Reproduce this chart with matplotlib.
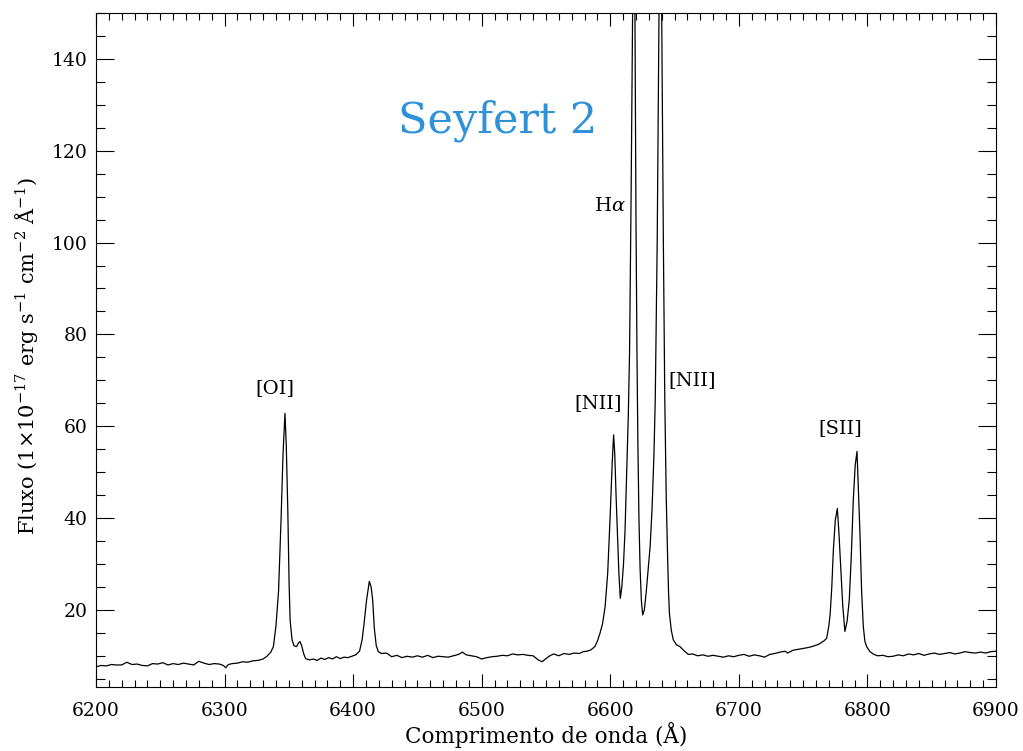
import numpy as np
import matplotlib
matplotlib.use('Agg')
import matplotlib.pyplot as plt
from matplotlib.ticker import MultipleLocator

# espectro lido em trechos (comprimento de onda em Angstrom, fluxo em 1e-17 erg/s/cm2/A)
wave_blue = [6200, 6204, 6208, 6212, 6216, 6220, 6224, 6228, 6232, 6236, 6240, 6244,
             6248, 6252, 6256, 6260, 6264, 6268, 6272, 6276, 6280, 6284, 6288, 6292,
             6296, 6299, 6301, 6303, 6306, 6310, 6314, 6318, 6322, 6326, 6330, 6333, 6336]
flux_blue = [7.6, 7.9, 7.8, 8.1, 8.0, 8.0, 8.6, 8.1, 8.2, 7.9, 7.8, 8.3,
             8.2, 8.5, 8.0, 8.3, 8.1, 8.4, 8.2, 8.0, 8.8, 8.4, 8.1, 8.3,
             8.2, 7.9, 7.4, 8.1, 8.3, 8.4, 8.7, 8.6, 8.9, 9.0, 9.3, 9.9, 10.8]

wave_oi = [6338, 6340, 6342, 6344, 6345.5, 6347, 6348, 6349.2, 6350.2, 6351, 6352.5,
           6354, 6356, 6357.5, 6358.7, 6360, 6361.5, 6363, 6366]
flux_oi = [12.0, 16.5, 24.0, 40.0, 54.0, 62.8, 56.0, 41.8, 26.0, 17.8, 13.5,
           12.2, 12.0, 12.8, 13.1, 12.2, 10.5, 9.4, 9.1]

wave_oi2 = [6369, 6372, 6375, 6378, 6381, 6384, 6387, 6390, 6393, 6396, 6399, 6402,
            6405, 6407, 6408.5, 6410.5, 6412.6, 6414, 6415.2, 6416.5, 6418, 6419.6,
            6422, 6426]
flux_oi2 = [9.3, 9.0, 9.5, 9.2, 9.6, 9.3, 9.8, 9.4, 9.7, 9.6, 9.9, 10.2,
            11.0, 13.5, 17.0, 22.2, 26.2, 25.0, 22.2, 16.0, 12.2, 10.9,
            10.5, 10.6]

wave_mid = [6430, 6434, 6438, 6442, 6446, 6450, 6454, 6458, 6462, 6466, 6470, 6474,
            6478, 6482, 6485, 6488, 6492, 6496, 6500, 6504, 6508, 6512, 6516, 6520,
            6524, 6528, 6532, 6536, 6540, 6544, 6547, 6550, 6553, 6556, 6560, 6564,
            6568, 6572, 6576, 6579, 6582, 6585]
flux_mid = [9.8, 10.1, 9.6, 9.9, 9.7, 10.0, 9.7, 10.1, 9.6, 9.9, 9.8, 9.7,
            10.0, 10.3, 10.8, 10.2, 10.0, 9.8, 9.3, 9.6, 9.8, 9.9, 10.1, 10.0,
            10.4, 10.2, 10.3, 10.1, 10.0, 9.1, 8.7, 9.4, 10.0, 10.4, 10.0, 10.5,
            10.3, 10.6, 10.5, 10.9, 11.0, 11.3]

wave_ha = [6588, 6590, 6592, 6594, 6596, 6598, 6600, 6601.5, 6602.6, 6603.5, 6604.5,
           6605.5, 6606.7, 6607.8, 6609, 6610.3, 6611.5, 6612.8, 6614, 6615,
           6616.2, 6617.4, 6618.3, 6619.2, 6620, 6620.8, 6621.5, 6622.3, 6623.2,
           6624.2, 6625.2, 6626.5, 6628, 6629.5, 6631, 6632.5, 6634, 6635,
           6636.5, 6637.9, 6639, 6640, 6641.3, 6642.4, 6643.5, 6644.4, 6645.3,
           6646, 6647.5, 6649, 6651.5, 6654.2, 6657, 6660.7]
flux_ha = [12.0, 13.2, 14.9, 17.0, 20.7, 28.0, 41.0, 52.0, 58.1, 54.0, 45.0,
           37.4, 28.0, 22.5, 25.0, 30.0, 37.4, 50.0, 62.0, 76.0,
           110.0, 150.0, 190.0, 150.0, 105.0, 75.0, 56.0, 40.0, 29.0,
           22.0, 18.9, 20.0, 24.0, 29.0, 33.8, 42.0, 54.0, 66.0,
           100.0, 150.0, 185.0, 150.0, 100.0, 66.0, 45.0, 33.8, 24.0,
           19.3, 15.5, 13.5, 12.4, 12.0, 11.2, 10.3]

wave_red = [6664, 6668, 6672, 6676, 6680, 6684, 6688, 6692, 6696, 6700, 6704, 6708,
            6712, 6716, 6720, 6724, 6728, 6732, 6736, 6738, 6742, 6746, 6750, 6754,
            6758, 6762, 6766, 6768.3]
flux_red = [10.4, 10.0, 10.2, 9.9, 10.1, 9.9, 9.7, 10.0, 9.8, 10.1, 10.3, 9.9,
            10.2, 10.0, 9.7, 10.3, 10.5, 10.8, 11.0, 10.6, 11.2, 11.4, 11.6, 11.8,
            12.1, 12.5, 13.2, 13.8]

wave_sii = [6770, 6771, 6772.3, 6773.5, 6775, 6776.6, 6777.8, 6779.2, 6780.8, 6782.5,
            6784.2, 6785.9, 6787.5, 6789, 6790.5, 6791.9, 6793, 6794.2, 6795.5, 6796.8,
            6798, 6799.4, 6802, 6805, 6808]
flux_sii = [16.5, 19.0, 25.0, 33.0, 39.5, 42.1, 37.0, 29.4, 21.0, 15.3,
            17.5, 22.2, 32.0, 43.9, 51.5, 54.5, 46.0, 36.7, 24.0, 16.4,
            13.2, 12.0, 10.9, 10.3, 10.0]

wave_end = [6812, 6816, 6820, 6824, 6828, 6832, 6836, 6840, 6844, 6848, 6852, 6856,
            6860, 6864, 6868, 6872, 6876, 6880, 6884, 6888, 6892, 6896, 6900]
flux_end = [10.1, 9.8, 9.9, 10.2, 10.0, 10.4, 10.2, 10.5, 10.1, 10.4, 10.6, 10.3,
            10.5, 10.7, 10.4, 10.6, 10.9, 10.7, 10.6, 10.8, 10.6, 10.9, 11.0]

wave = np.concatenate([wave_blue, wave_oi, wave_oi2, wave_mid, wave_ha,
                       wave_red, wave_sii, wave_end])
flux = np.concatenate([flux_blue, flux_oi, flux_oi2, flux_mid, flux_ha,
                       flux_red, flux_sii, flux_end])

plt.rcParams['font.family'] = ['DejaVu Serif']
plt.rcParams['mathtext.fontset'] = 'dejavuserif'

fig = plt.figure(figsize=(10.23, 7.51), dpi=100)
ax = fig.add_axes([0.0938, 0.0852, 0.8798, 0.8975])
ax.plot(wave, flux, color='black', lw=0.9)

ax.set_xlim(6200, 6900)
ax.set_ylim(3.2, 150)
ax.xaxis.set_major_locator(MultipleLocator(100))
ax.xaxis.set_minor_locator(MultipleLocator(10))
ax.yaxis.set_major_locator(MultipleLocator(20))
ax.yaxis.set_minor_locator(MultipleLocator(5))
ax.tick_params(axis='both', which='both', direction='in', top=True, right=True,
               width=0.8, labelsize=13.5)
ax.tick_params(axis='x', which='major', length=9.7, pad=11)
ax.tick_params(axis='x', which='minor', length=4.9)
ax.tick_params(axis='y', which='major', length=13, pad=6)
ax.tick_params(axis='y', which='minor', length=6.5)
for s in ax.spines.values():
    s.set_linewidth(0.8)

ax.set_xlabel('Comprimento de onda (Å)', fontsize=15.5, labelpad=1)
ax.set_ylabel(r'Fluxo (1$\times$10$^{-17}$ erg s$^{-1}$ cm$^{-2}$ Å$^{-1}$)',
              fontsize=15)
ax.yaxis.set_label_coords(-0.062, 0.49)

# identificação das linhas
ax.text(6339, 68.3, '[OI]', fontsize=14, ha='center', va='center')
ax.text(6590.4, 65.1, '[NII]', fontsize=14, ha='center', va='center')
ax.text(6599.8, 108, r'H$\alpha$', fontsize=14, ha='center', va='center')
ax.text(6663.5, 70.1, '[NII]', fontsize=14, ha='center', va='center')
ax.text(6778.7, 59.6, '[SII]', fontsize=14, ha='center', va='center')
ax.text(6512.7, 126.5, 'Seyfert 2', fontsize=31, color='#2f92d8',
        ha='center', va='center')

fig.savefig('out.png', dpi=100)
